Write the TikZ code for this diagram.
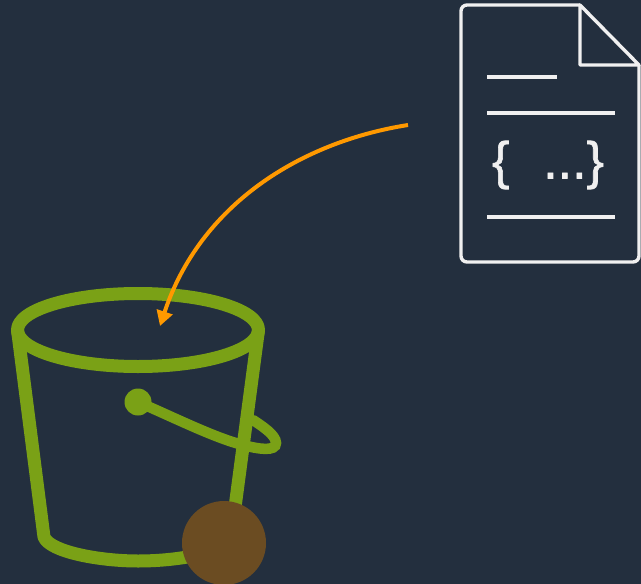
\documentclass[tikz,border=0pt]{standalone}
\usepackage{fontspec}
\setmainfont{Liberation Sans}
\newfontfamily\bracefont[FakeBold=1.2]{Liberation Sans}
\usepackage{tikz}
\usetikzlibrary{arrows.meta}
\definecolor{bgnavy}{HTML}{232F3E}
\definecolor{bucketgreen}{HTML}{7AA116}
\definecolor{arroworange}{HTML}{FF9900}
\definecolor{dotbrown}{HTML}{6B4C22}
\definecolor{docwhite}{HTML}{F0F0F0}
\begin{document}
\begin{tikzpicture}[x=1pt, y=-1pt,
    bucketline/.style={bucketgreen, line width=13pt, line join=round},
    handleline/.style={bucketgreen, line width=10.5pt, line cap=round},
    docline/.style={docwhite, line width=3.4pt},
    fetchline/.style={arroworange, line width=4pt, -{Triangle[length=15pt, width=16pt]}}]
    \fill[bgnavy] (0,0) rectangle (641,584);
    \useasboundingbox (0,0) rectangle (641,584);
    \coordinate (RimLeft) at (17.5,330);
    \coordinate (RimRight) at (258.5,330);
    \coordinate (FootLeft) at (44,537);
    \coordinate (FootRight) at (230,545);
    \coordinate (HandlePin) at (138,402);
    \coordinate (ArrowStart) at (408,125);
    \coordinate (ArrowEnd) at (160,326);
    \coordinate (DocTopLeft) at (461,5);
    \coordinate (DocBottomRight) at (639,262);
    \coordinate (FoldTop) at (580,5);
    \coordinate (FoldRight) at (639,65);
    \coordinate (FoldCorner) at (580,65);
    \draw[bucketline] (138,330) ellipse [x radius=120.5, y radius=36.5];
    \draw[bucketline] (RimLeft) -- (FootLeft) .. controls (50,552) and (100,561) .. (138,561)
        .. controls (170,561) and (205,556) .. (FootRight) -- (RimRight);
    \draw[handleline] (HandlePin) .. controls (175,418) and (215,438) .. (243,445)
        .. controls (258,449) and (276,452) .. (276,443)
        .. controls (276,435) and (262,426) .. (253,420);
    \fill[bucketgreen] (HandlePin) circle (13.5);
    \fill[dotbrown] (224,543) circle (42);
    \draw[docline, line join=round] (FoldTop) -- (FoldRight) -- (FoldCorner) -- cycle;
    \draw[docline, rounded corners=6pt] (FoldTop) -- (DocTopLeft) -- (461,262) -- (DocBottomRight) -- (FoldRight);
    \draw[docline] (487,77) -- (557,77);
    \draw[docline] (487,113) -- (615,113);
    \draw[docline] (487,217) -- (615,217);
    \node[docwhite, font=\bracefont\fontsize{52}{52}\selectfont, inner sep=0pt] (BraceText) at (548,165) {\{\ \ \kern5pt...\}};
    \draw[fetchline] (ArrowStart) .. controls (300,142) and (200,205) .. (ArrowEnd);
\end{tikzpicture}
\end{document}
